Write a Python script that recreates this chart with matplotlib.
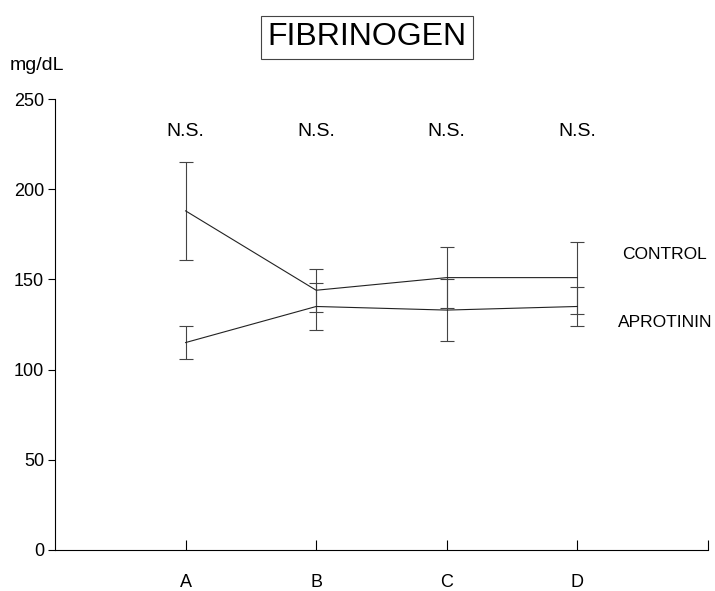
import matplotlib
matplotlib.use('Agg')
import matplotlib.pyplot as plt
import numpy as np

plt.rcParams['font.family'] = ['Liberation Sans', 'DejaVu Sans']

groups = ['A', 'B', 'C', 'D']
control = [188, 144, 151, 151]
control_err = [27, 12, 17, 20]
aprotinin = [115, 135, 133, 135]
aprotinin_err = [9, 13, 17, 11]
sig = ['N.S.', 'N.S.', 'N.S.', 'N.S.']
yticks = [0, 50, 100, 150, 200, 250]

x = np.arange(1, len(groups) + 1)

fig = plt.figure(figsize=(7.15, 5.91), dpi=100)
ax = fig.add_axes([0.077, 0.0694, 0.913, 0.763])

for y, e in [(control, control_err), (aprotinin, aprotinin_err)]:
    ax.errorbar(x, y, yerr=e, color='#222222', lw=0.8, elinewidth=0.8,
                ecolor='#444444', capsize=5, capthick=0.8)

fig.text(0.989, 0.569, 'CONTROL', ha='right', va='center', fontsize=12.5)
fig.text(0.996, 0.455, 'APROTININ', ha='right', va='center', fontsize=12.5)

for xi, s in zip(x, sig):
    ax.text(xi, 232, s, ha='center', va='center', fontsize=14)

ax.set_xlim(0, 5)
ax.set_ylim(0, 250)
ax.set_yticks(yticks)
ax.set_xticks([1, 2, 3, 4, 5])
ax.set_xticklabels(groups + [''])
ax.tick_params(axis='x', direction='in', length=7, labelsize=13, pad=17)
ax.tick_params(axis='y', direction='out', length=5, labelsize=13, pad=3)
for s in ['top', 'right']:
    ax.spines[s].set_visible(False)
for s in ['left', 'bottom']:
    ax.spines[s].set_linewidth(0.8)

fig.text(0.051, 0.89, 'mg/dL', fontsize=14, ha='center', va='center')
fig.text(0.513, 0.937, 'FIBRINOGEN', fontsize=23, ha='center', va='center',
         bbox=dict(boxstyle='square,pad=0.2', fc='white', ec='#444444', lw=0.8))

fig.savefig('out.png', dpi=100)
